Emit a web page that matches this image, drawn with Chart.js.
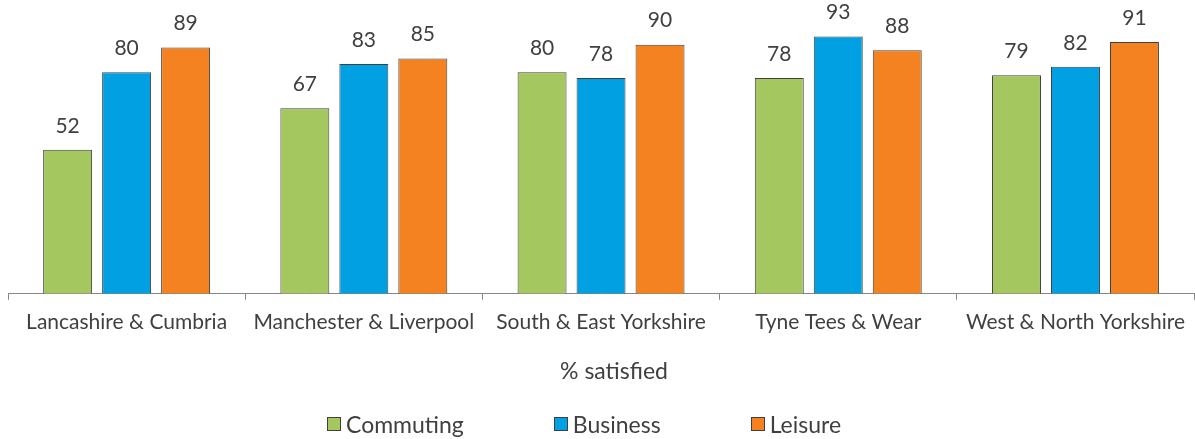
<!DOCTYPE html>
<html><head><meta charset="utf-8">
<script src="https://cdn.jsdelivr.net/npm/chart.js@4/dist/chart.umd.min.js"></script>
<style>
html,body{margin:0;padding:0;background:#fff;overflow:hidden}
#wrap{position:relative;width:1195px;height:439px}
#c{position:absolute;left:0;top:0}
#legend{position:absolute;top:410px;left:327px;display:flex;justify-content:flex-start;gap:90px;font:23px Lato, sans-serif;color:#404040;line-height:28px}
#legend .it{display:flex;align-items:center}
#legend .bx{width:12px;height:12px;border:1px solid #404040;margin-right:5px}
</style></head>
<body><div id="wrap"><canvas id="c" width="1195" height="439"></canvas><div id="legend"></div></div>
<script>
const categories = ["Lancashire & Cumbria","Manchester & Liverpool","South & East Yorkshire","Tyne Tees & Wear","West & North Yorkshire"];
const seriesNames = ["Commuting","Business","Leisure"];
const commuting = [52,67,80,78,79];
const business = [80,83,78,93,82];
const leisure = [89,85,90,88,91];
const axisTitle = "% satisfied";
const colors = ["#A5C760","#00A0E2","#F58220"];

const FONT = "Lato, sans-serif";
const valueLabels = {
  id:'valueLabels',
  afterDatasetsDraw(chart){
    const ctx = chart.ctx;
    ctx.save();
    ctx.font = "21px " + FONT;
    ctx.fillStyle = "#404040";
    ctx.textAlign = "center";
    ctx.textBaseline = "middle";
    chart.data.datasets.forEach((ds,i)=>{
      chart.getDatasetMeta(i).data.forEach((bar,j)=>{
        ctx.fillText(String(ds.data[j]), bar.x, bar.y - 24);
      });
    });
    ctx.restore();
  }
};
const axisTitlePlugin = {
  id:'axisTitlePlugin',
  afterDraw(chart){
    const ctx = chart.ctx;
    ctx.save();
    ctx.font = "23px " + FONT;
    ctx.fillStyle = "#404040";
    ctx.textAlign = "center";
    ctx.textBaseline = "middle";
    ctx.fillText(axisTitle, 614, 372);
    ctx.restore();
  }
};

const seriesData = [commuting,business,leisure];
new Chart(document.getElementById('c'),{
  type:'bar',
  data:{
    labels:categories,
    datasets:seriesNames.map((n,i)=>({label:n,data:seriesData[i],backgroundColor:colors[i],borderColor:"#404040",borderWidth:1,categoryPercentage:0.746,barPercentage:0.83}))
  },
  options:{
    responsive:false,animation:false,devicePixelRatio:1,
    layout:{padding:{left:8,right:0,top:17,bottom:94}},
    plugins:{legend:{display:false},tooltip:{enabled:false}},
    scales:{
      x:{
        grid:{display:true,drawOnChartArea:false,drawTicks:true,tickLength:6,color:"#868686",offset:true},
        border:{color:"#868686"},
        ticks:{font:{family:FONT,size:21},color:"#404040",padding:10,maxRotation:0},
        title:{display:false}
      },
      y:{display:false,min:0,max:100}
    }
  },
  plugins:[valueLabels,axisTitlePlugin]
});

const lg = document.getElementById('legend');
seriesNames.forEach((n,i)=>{
  const it=document.createElement('div');it.className='it';
  const bx=document.createElement('div');bx.className='bx';bx.style.background=colors[i];
  const t=document.createElement('span');t.textContent=n;
  it.appendChild(bx);it.appendChild(t);lg.appendChild(it);
});
</script>
</body></html>
